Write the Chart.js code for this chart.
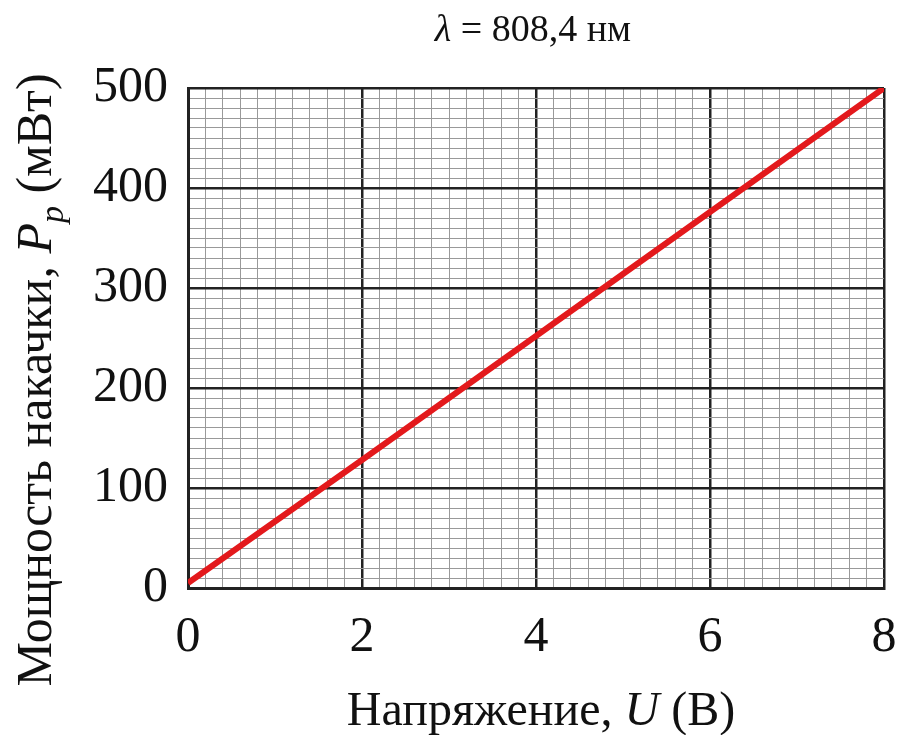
<!DOCTYPE html>
<html>
<head>
<meta charset="utf-8">
<script src="https://cdn.jsdelivr.net/npm/chart.js@4/dist/chart.umd.min.js"></script>
<style>
  html, body { margin: 0; padding: 0; background: #fff; }
  canvas { display: block; }
</style>
</head>
<body>
<canvas id="c" width="898" height="735"></canvas>
<script>
// ---- data ----
const voltage = [0, 2, 4, 6, 8];              // U (В)
const pumpPower = [5, 128, 252, 376, 500];    // P_p (мВт)
const xTickLabels = ['0', '2', '4', '6', '8'];
const yTickLabels = ['0', '100', '200', '300', '400', '500'];
const titleText = ['λ', ' = 808,4 нм'];
const xTitleParts = ['Напряжение, ', 'U', ' (В)'];
const yTitleParts = ['Мощность накачки, ', 'P', 'p', ' (мВт)'];

const SERIF = "'Liberation Serif', 'Times New Roman', serif";

function isMajor(v, step) {
  const r = v / step;
  return Math.abs(r - Math.round(r)) < 1e-6;
}

const textPlugin = {
  id: 'texts',
  afterDraw(chart) {
    const ctx = chart.ctx;
    const ca = chart.chartArea;
    ctx.save();
    ctx.fillStyle = '#111';
    ctx.textBaseline = 'alphabetic';

    // Title
    {
      const f1 = 'italic 38px ' + SERIF, f2 = '38px ' + SERIF;
      ctx.font = f1; const w1 = ctx.measureText(titleText[0]).width;
      ctx.font = f2; const w2 = ctx.measureText(titleText[1]).width;
      let x = 533 - (w1 + w2) / 2;
      const y = 41;
      ctx.font = f1; ctx.fillText(titleText[0], x, y); x += w1;
      ctx.font = f2; ctx.fillText(titleText[1], x, y);
    }

    // X axis title
    {
      const fn = '48px ' + SERIF, fi = 'italic 48px ' + SERIF;
      const fonts = [fn, fi, fn];
      let total = 0; const ws = [];
      xTitleParts.forEach((t, i) => { ctx.font = fonts[i]; const w = ctx.measureText(t).width; ws.push(w); total += w; });
      let x = 541 - total / 2;
      const y = 725;
      xTitleParts.forEach((t, i) => { ctx.font = fonts[i]; ctx.fillText(t, x, y); x += ws[i]; });
    }

    // Y axis title (rotated)
    {
      const fn = '50px ' + SERIF, fi = 'italic 50px ' + SERIF, fs = 'italic 34px ' + SERIF;
      const fonts = [fn, fi, fs, fn];
      const offs = [0, 0, 12, 0];
      let total = 0; const ws = [];
      yTitleParts.forEach((t, i) => { ctx.font = fonts[i]; const w = ctx.measureText(t).width; ws.push(w); total += w; });
      ctx.translate(51, 380);
      ctx.rotate(-Math.PI / 2);
      let x = -total / 2;
      yTitleParts.forEach((t, i) => { ctx.font = fonts[i]; ctx.fillText(t, x, offs[i]); x += ws[i]; });
    }
    ctx.restore();
  }
};

new Chart(document.getElementById('c'), {
  type: 'line',
  data: {
    datasets: [{
      data: voltage.map((u, i) => ({ x: u, y: pumpPower[i] })),
      borderColor: '#e3191c',
      borderWidth: 6,
      pointRadius: 0,
      tension: 0,
      fill: false
    }]
  },
  options: {
    responsive: false,
    animation: false,
    layout: { padding: { top: 88, right: 14, left: 0, bottom: 0 } },
    plugins: { legend: { display: false }, tooltip: { enabled: false }, title: { display: false } },
    scales: {
      x: {
        type: 'linear',
        min: 0, max: 8,
        afterFit(scale) { scale.height = 147; scale.paddingRight = 0; scale.paddingLeft = 0; },
        ticks: {
          stepSize: 0.2,
          autoSkip: false,
          maxRotation: 0,
          padding: 20,
          color: '#111',
          font: { family: SERIF, size: 50 },
          callback: (v) => isMajor(v, 2) ? xTickLabels[Math.round(v / 2)] : ''
        },
        grid: {
          drawTicks: false,
          color: (c) => isMajor(c.tick.value, 2) ? '#222' : '#999',
          lineWidth: (c) => isMajor(c.tick.value, 2) ? 2.5 : 1
        },
        border: { display: true, color: '#222', width: 3 }
      },
      y: {
        type: 'linear',
        min: 0, max: 500,
        afterFit(scale) { scale.width = 188; scale.paddingTop = 0; scale.paddingBottom = 0; },
        ticks: {
          stepSize: 10,
          autoSkip: false,
          padding: 20,
          color: '#111',
          font: { family: SERIF, size: 50 },
          callback: (v) => isMajor(v, 100) ? yTickLabels[Math.round(v / 100)] : ''
        },
        grid: {
          drawTicks: false,
          color: (c) => isMajor(c.tick.value, 100) ? '#222' : '#999',
          lineWidth: (c) => isMajor(c.tick.value, 100) ? 2.5 : 1
        },
        border: { display: true, color: '#222', width: 3 }
      }
    }
  },
  plugins: [textPlugin]
});
</script>
</body>
</html>
